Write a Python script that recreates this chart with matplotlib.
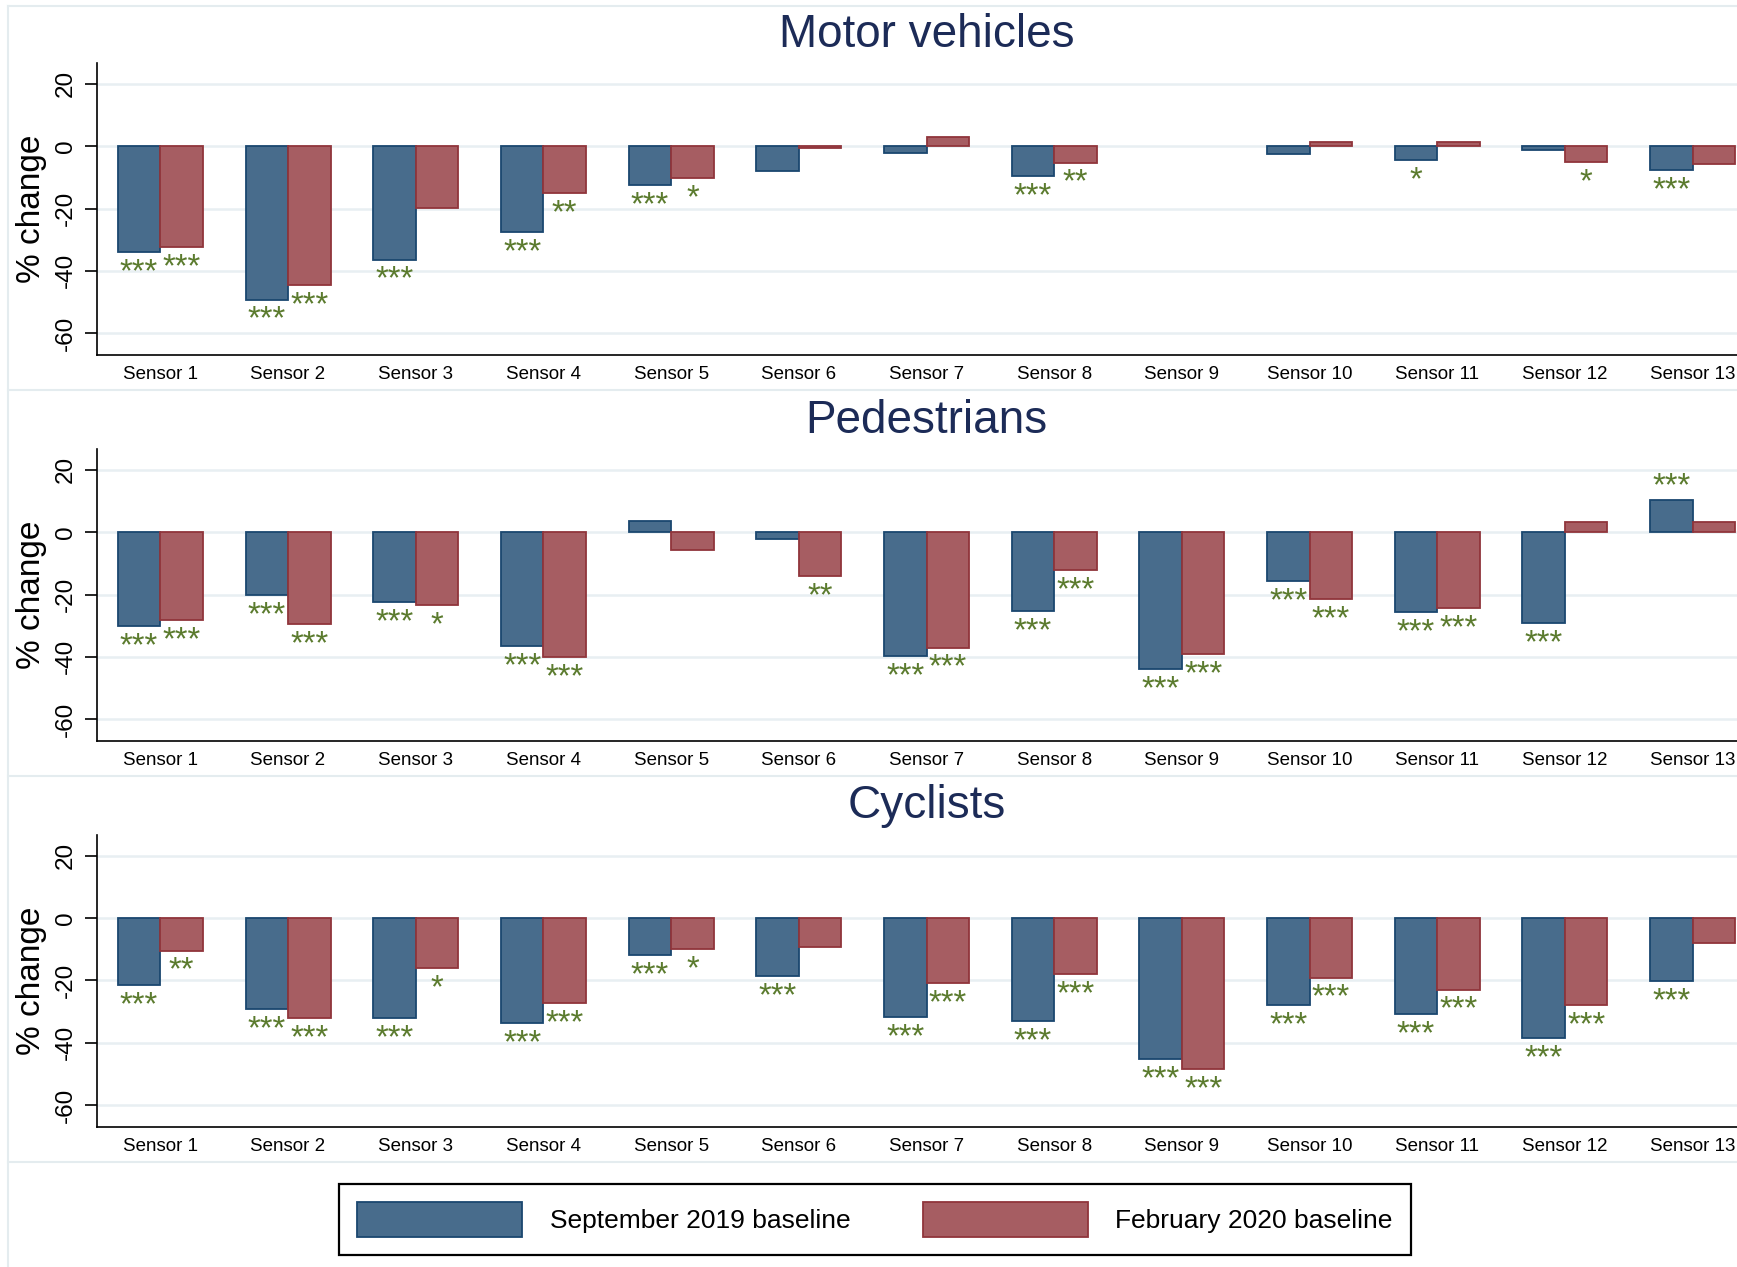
import matplotlib
matplotlib.use("Agg")
import matplotlib.pyplot as plt
import numpy as np
from matplotlib.lines import Line2D

plt.rcParams['font.family'] = ['Liberation Sans', 'DejaVu Sans']
plt.rcParams['axes.unicode_minus'] = False

nan = np.nan

# --- data ---
sensors = ["Sensor 1", "Sensor 2", "Sensor 3", "Sensor 4", "Sensor 5", "Sensor 6", "Sensor 7",
           "Sensor 8", "Sensor 9", "Sensor 10", "Sensor 11", "Sensor 12", "Sensor 13"]
panel_titles = ["Motor vehicles", "Pedestrians", "Cyclists"]
series_labels = ["September 2019 baseline", "February 2020 baseline"]

motor_sep = [-33.9, -49.2, -36.4, -27.5, -12.6, -8.1, -2.1, -9.5, nan, -2.4, -4.4, -1.3, -7.7]
motor_feb = [-32.3, -44.5, -19.8, -15.0, -10.3, -0.5, 3.1, -5.3, nan, 1.4, 1.4, -5.1, -5.7]
motor_sep_sig = ['***', '***', '***', '***', '***', '', '', '***', '', '', '*', '', '***']
motor_feb_sig = ['***', '***', '', '**', '*', '', '', '**', '', '', '', '*', '']

ped_sep = [-30.1, -20.2, -22.5, -36.5, 3.5, -2.2, -39.8, -25.3, -43.9, -15.7, -25.6, -29.1, 10.4]
ped_feb = [-28.1, -29.5, -23.3, -40.1, -5.8, -14.1, -37.0, -12.2, -39.2, -21.5, -24.4, 3.3, 3.4]
ped_sep_sig = ['***', '***', '***', '***', '', '', '***', '***', '***', '***', '***', '***', '***']
ped_feb_sig = ['***', '***', '*', '***', '', '**', '***', '***', '***', '***', '***', '', '']

cyc_sep = [-21.5, -29.3, -32.2, -33.7, -12.0, -18.7, -31.9, -33.1, -45.4, -28.0, -30.8, -38.6, -20.4]
cyc_feb = [-10.5, -32.1, -16.2, -27.4, -10.1, -9.4, -21.0, -18.1, -48.6, -19.2, -23.0, -27.9, -8.1]
cyc_sep_sig = ['***', '***', '***', '***', '***', '***', '***', '***', '***', '***', '***', '***', '***']
cyc_feb_sig = ['**', '***', '*', '***', '*', '', '***', '***', '***', '***', '***', '***', '']

yticks = [-60, -40, -20, 0, 20]

# --- styles ---
BLUE_FILL, BLUE_EDGE = '#486C8C', '#1A476F'
RED_FILL, RED_EDGE = '#A65D62', '#90353B'
STAR = '#5B7B2E'
TITLE = '#1C2B57'
GRID = '#E8EFF2'
BORDER = '#E4ECEF'

W, H = 1737, 1267
fig = plt.figure(figsize=(W / 100, H / 100), dpi=100, facecolor='white')

panels = [
    (motor_sep, motor_feb, motor_sep_sig, motor_feb_sig),
    (ped_sep, ped_feb, ped_sep_sig, ped_feb_sig),
    (cyc_sep, cyc_feb, cyc_sep_sig, cyc_feb_sig),
]
tops_px = [63.3, 449.3, 835.0]   # top of each plot region
ax_h_px = 291.7
left_px, width_px = 96.5, 1660.0

x = np.arange(1, len(sensors) + 1)
bw = 0.333
handles = None

for i, (sep, feb, sep_sig, feb_sig) in enumerate(panels):
    bottom = (H - tops_px[i] - ax_h_px) / H
    ax = fig.add_axes([left_px / W, bottom, width_px / W, ax_h_px / H])
    ax.set_axisbelow(True)

    b1 = ax.bar(x - bw / 2, sep, width=bw, color=BLUE_FILL, edgecolor=BLUE_EDGE, linewidth=1.3, zorder=3)
    b2 = ax.bar(x + bw / 2, feb, width=bw, color=RED_FILL, edgecolor=RED_EDGE, linewidth=1.3, zorder=3)
    if handles is None:
        handles = [b1, b2]

    # significance stars
    for xs, vals, sigs in [(x - bw / 2, sep, sep_sig), (x + bw / 2, feb, feb_sig)]:
        for xx, v, s in zip(xs, vals, sigs):
            if not s or np.isnan(v):
                continue
            if v < 0:
                ax.annotate(s, (xx, v), xytext=(0, -3.6), textcoords='offset points',
                            ha='center', va='top', fontsize=23.5, color=STAR, zorder=4)
            else:
                ax.annotate(s, (xx, v), xytext=(0, 3.6), textcoords='offset points',
                            ha='center', va='baseline', fontsize=23.5, color=STAR, zorder=4)

    ax.set_xlim(0.5, 13.5)
    ax.set_ylim(-67.0, 26.6)
    ax.set_xticks(x)
    ax.set_xticklabels(sensors, fontsize=13.5)
    ax.tick_params(axis='x', length=0, pad=8)
    ax.set_yticks(yticks)
    ax.set_yticklabels([str(t) for t in yticks], rotation=90, va='center', fontsize=17.5)
    ax.tick_params(axis='y', length=9, width=1.2, pad=5.3)

    ax.grid(axis='y', color=GRID, linewidth=1.8)
    for side in ['top', 'right']:
        ax.spines[side].set_visible(False)
    for side in ['left', 'bottom']:
        ax.spines[side].set_linewidth(1.2)
        ax.spines[side].set_color('black')

    ax.set_ylabel('% change', fontsize=24)
    ax.yaxis.set_label_coords((47 - left_px) / width_px, 0.5)
    ax.set_title(panel_titles[i], fontsize=33, color=TITLE, pad=12)

# light borders around the sub-graphs
def fig_line(x0, y0, x1, y1):
    fig.add_artist(Line2D([x0 / W, x1 / W], [1 - y0 / H, 1 - y1 / H],
                          transform=fig.transFigure, color=BORDER, linewidth=1.5))

for yb in [6, 390, 776, 1162]:
    fig_line(8, yb, W, yb)
fig_line(8, 6, 8, H)

leg = fig.legend(handles, series_labels, loc='center left', bbox_to_anchor=(339 / W, 1 - 1219.5 / H),
                 ncol=2, fontsize=19, handlelength=6.25, handleheight=1.67, handletextpad=1.05,
                 columnspacing=2.75, borderpad=0.68, borderaxespad=0, fancybox=False, framealpha=1)
leg.get_frame().set_edgecolor('black')
leg.get_frame().set_linewidth(1.6)

fig.savefig('out.png', dpi=100)
